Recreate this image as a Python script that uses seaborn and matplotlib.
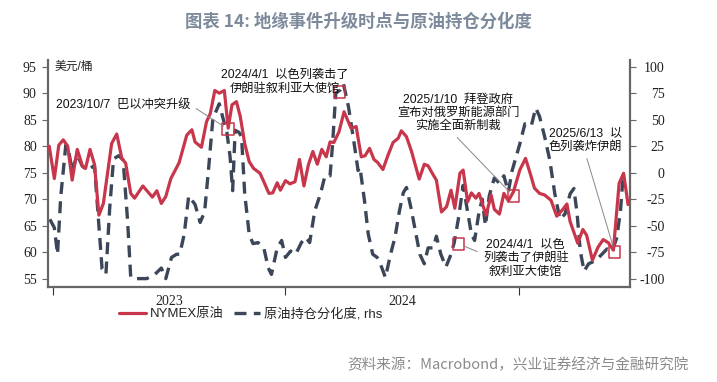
import pandas as pd
import seaborn as sns
import matplotlib.pyplot as plt
import matplotlib.dates as mdates
from matplotlib.ticker import FixedLocator

# NYMEX crude (USD/bbl), left axis
oil_dates = [
    "2022-12-26", "2023-01-03", "2023-01-10", "2023-01-17", "2023-01-24", "2023-01-31",
    "2023-02-08", "2023-02-16", "2023-02-21", "2023-02-28", "2023-03-07", "2023-03-14",
    "2023-03-21", "2023-04-03", "2023-04-11", "2023-04-19", "2023-04-25", "2023-05-03",
    "2023-05-09", "2023-05-22", "2023-06-06", "2023-06-13", "2023-06-20", "2023-06-27",
    "2023-07-05", "2023-07-18", "2023-07-30", "2023-08-07", "2023-08-12", "2023-08-22",
    "2023-08-30", "2023-09-05", "2023-09-12", "2023-09-19", "2023-09-27", "2023-10-03",
    "2023-10-09", "2023-10-16", "2023-10-22", "2023-10-29", "2023-11-05", "2023-11-12",
    "2023-11-22", "2023-11-28", "2023-12-06", "2023-12-12", "2023-12-19", "2023-12-24",
    "2024-01-01", "2024-01-08", "2024-01-16", "2024-01-23", "2024-01-30", "2024-02-06",
    "2024-02-13", "2024-02-20", "2024-02-27", "2024-03-05", "2024-03-11", "2024-03-17",
    "2024-03-25", "2024-04-02", "2024-04-13", "2024-04-21", "2024-04-29", "2024-05-05",
    "2024-05-12", "2024-05-19", "2024-05-25", "2024-06-02", "2024-06-10", "2024-06-18",
    "2024-06-26", "2024-07-01", "2024-07-09", "2024-07-17", "2024-07-29", "2024-08-06",
    "2024-08-12", "2024-08-20", "2024-08-25", "2024-09-02", "2024-09-10", "2024-09-17",
    "2024-09-23", "2024-10-01", "2024-10-06", "2024-10-13", "2024-10-19", "2024-10-26",
    "2024-10-31", "2024-11-11", "2024-11-19", "2024-11-24", "2024-12-02", "2024-12-09",
    "2024-12-16", "2024-12-24", "2025-01-03", "2025-01-12", "2025-01-20", "2025-01-26",
    "2025-02-03", "2025-02-11", "2025-02-21", "2025-03-02", "2025-03-11", "2025-03-18",
    "2025-03-23", "2025-04-04", "2025-04-12", "2025-04-18", "2025-04-27", "2025-05-06",
    "2025-05-14", "2025-05-22", "2025-05-30", "2025-06-08", "2025-06-15", "2025-06-22",
]
oil_price = [
    80.0, 73.9, 80.2, 81.2, 80.0, 73.6,
    79.4, 76.3, 75.8, 79.4, 76.6, 67.0,
    69.2, 80.5, 82.3, 77.7, 76.8, 71.1,
    70.2, 72.5, 70.4, 71.6, 69.2, 70.5,
    73.9, 76.9, 82.1, 83.1, 80.8, 79.8,
    84.6, 86.2, 90.5, 90.0, 90.5, 83.4,
    87.8, 88.4, 85.6, 80.5, 77.1, 75.8,
    74.9, 73.3, 71.1, 71.2, 73.1, 71.7,
    73.5, 72.9, 73.3, 77.5, 72.5, 76.5,
    79.0, 76.6, 79.4, 78.0, 80.8, 80.7,
    82.7, 86.5, 83.4, 83.7, 78.0, 78.2,
    79.6, 77.5, 76.9, 75.6, 78.3, 80.7,
    81.5, 82.9, 81.8, 79.0, 73.8, 76.6,
    76.3, 74.6, 73.6, 67.6, 68.6, 71.7,
    68.3, 74.9, 75.5, 69.5, 71.2, 70.2,
    71.1, 67.0, 70.8, 68.1, 67.2, 71.1,
    69.7, 71.4, 75.5, 77.7, 74.6, 72.1,
    71.1, 70.8, 69.8, 66.8, 68.0, 69.1,
    65.8, 61.7, 64.3, 63.2, 58.5, 61.0,
    62.4, 61.8, 60.4, 73.0, 74.9, 69.0,
]

# positioning divergence, right axis
pos_dates = [
    "2022-12-27", "2023-01-03", "2023-01-08", "2023-01-13", "2023-01-21", "2023-01-25",
    "2023-01-31", "2023-02-08", "2023-02-16", "2023-02-25", "2023-03-07", "2023-03-13",
    "2023-03-19", "2023-03-25", "2023-03-31", "2023-04-06", "2023-04-14", "2023-04-21",
    "2023-04-28", "2023-05-03", "2023-05-12", "2023-05-28", "2023-06-10", "2023-06-20",
    "2023-06-27", "2023-07-06", "2023-07-14", "2023-07-19", "2023-07-26", "2023-08-02",
    "2023-08-12", "2023-08-20", "2023-08-27", "2023-09-02", "2023-09-09", "2023-09-19",
    "2023-09-25", "2023-10-01", "2023-10-06", "2023-10-10", "2023-10-14", "2023-10-20",
    "2023-10-24", "2023-10-29", "2023-11-05", "2023-11-11", "2023-11-19", "2023-11-28",
    "2023-12-05", "2023-12-10", "2023-12-19", "2023-12-26", "2024-01-01", "2024-01-09",
    "2024-01-17", "2024-01-26", "2024-02-02", "2024-02-08", "2024-02-16", "2024-02-25",
    "2024-03-03", "2024-03-11", "2024-03-15", "2024-03-20", "2024-03-27", "2024-04-01",
    "2024-04-09", "2024-04-17", "2024-04-24", "2024-04-27", "2024-05-04", "2024-05-10",
    "2024-05-17", "2024-05-24", "2024-05-29", "2024-06-06", "2024-06-14", "2024-06-21",
    "2024-06-28", "2024-07-04", "2024-07-09", "2024-07-16", "2024-07-23", "2024-07-30",
    "2024-08-06", "2024-08-12", "2024-08-20", "2024-08-25", "2024-09-01", "2024-09-09",
    "2024-09-17", "2024-09-22", "2024-09-29", "2024-10-06", "2024-10-13", "2024-10-19",
    "2024-10-24", "2024-10-31", "2024-11-05", "2024-11-10", "2024-11-16", "2024-11-24",
    "2024-12-02", "2024-12-09", "2024-12-16", "2024-12-22", "2025-01-03", "2025-01-11",
    "2025-01-21", "2025-01-28", "2025-02-03", "2025-02-11", "2025-02-19", "2025-02-27",
    "2025-03-07", "2025-03-15", "2025-03-23", "2025-03-29", "2025-04-03", "2025-04-08",
    "2025-04-14", "2025-04-21", "2025-05-02", "2025-05-12", "2025-05-20", "2025-05-28",
    "2025-06-04", "2025-06-10", "2025-06-14", "2025-06-18",
]
pos_spread = [
    -44, -52, -77, -23, 26, 22,
    2, 17, 6, 2, 7, -42,
    -91, -96, -33, 13, 16, 12,
    -45, -99, -100, -100, -96, -90,
    -100, -80, -77, -77, -58, -22,
    -30, -47, -37, 2, 51, 65,
    51, 38, 15, -17, 40, 38,
    34, -20, -58, -67, -66, -71,
    -90, -96, -71, -64, -80, -74,
    -77, -66, -61, -66, -36, -20,
    -3, -3, 27, 75, 78, 84,
    62, 31, 2, 5, -26, -58,
    -77, -80, -86, -99, -77, -61,
    -36, -19, -14, -33, -55, -77,
    -86, -71, -71, -60, -77, -89,
    -77, -66, -42, -12, -37, -58,
    -64, -37, -25, -50, -22, -5,
    -10, -3, -18, 2, 27, 46,
    44, 61, 53, 34, 12, -20,
    -44, -39, -20, -15, -39, -74,
    -93, -86, -83, -77, -72, -74,
    -62, -37, -5, -3,
]

# event markers (drawn on the price axis) and their notes
event_dates = ["2023-10-03", "2024-03-26", "2024-12-24", "2024-09-29", "2025-06-01"]
event_levels = [83.2, 90.2, 70.6, 61.6, 60.1]
event_notes = [
    "2023/10/7  巴以冲突升级",
    "2024/4/1  以色列袭击了\n伊朗驻叙利亚大使馆",
    "2025/1/10  拜登政府\n宣布对俄罗斯能源部门\n实施全面新制裁",
    "2024/4/1  以色\n列袭击了伊朗驻\n叙利亚大使馆",
    "2025/6/13  以\n色列袭炸伊朗",
]

oil = pd.DataFrame({"date": pd.to_datetime(oil_dates), "value": oil_price})
pos = pd.DataFrame({"date": pd.to_datetime(pos_dates), "value": pos_spread})
events = pd.DataFrame({"date": pd.to_datetime(event_dates), "value": event_levels})

sns.set_theme(style="white")
plt.rcParams["font.family"] = ["Noto Sans CJK SC", "DejaVu Sans"]
plt.rcParams["axes.unicode_minus"] = False

RED = "#c8364b"
NAVY = "#3b4759"
SPINE = "#666666"
DASH = (0, (3.6, 2.2))
CJK = ["Liberation Sans", "Noto Sans CJK SC"]
NUM = ["Liberation Serif", "Noto Sans CJK SC"]

fig = plt.figure(figsize=(7.17, 3.82), dpi=100)
ax = fig.add_axes([0.0669, 0.2487, 0.8117, 0.5943])
ax2 = ax.twinx()

sns.lineplot(data=oil, x="date", y="value", ax=ax, color=RED, lw=2.3, zorder=3)
sns.lineplot(data=pos, x="date", y="value", ax=ax2, color=NAVY, lw=2.4,
             linestyle=DASH, zorder=2)
ax.set_zorder(ax2.get_zorder() + 1)
ax.patch.set_visible(False)

ax.set_ylim(53.45, 96.26)
ax2.set_ylim(-107.9, 106.3)
ax.set_xlim(pd.Timestamp("2022-12-24"), pd.Timestamp("2025-06-25"))
ax.set_yticks(range(55, 100, 5))
ax2.set_yticks(range(-100, 101, 25))
ax.set_xlabel("")
ax.set_ylabel("")
ax2.set_ylabel("")

ax.xaxis.set_major_locator(mdates.YearLocator())
ax.xaxis.set_major_formatter(plt.NullFormatter())
ax.xaxis.set_minor_locator(FixedLocator(
    mdates.date2num(pd.to_datetime(["2023-07-02", "2024-07-02"]))))
ax.xaxis.set_minor_formatter(mdates.DateFormatter("%Y"))

for a in (ax, ax2):
    for side in ("top", "left", "right", "bottom"):
        a.spines[side].set_visible(False)
for side in ("left", "bottom"):
    ax.spines[side].set_visible(True)
    ax.spines[side].set_color(SPINE)
    ax.spines[side].set_linewidth(1.6)
ax2.spines["right"].set_visible(True)
ax2.spines["right"].set_color(SPINE)
ax2.spines["right"].set_linewidth(1.6)

ax.tick_params(axis="y", which="major", direction="out", length=4, width=0.8,
               color=SPINE, pad=4, labelsize=10, left=True)
ax2.tick_params(axis="y", direction="out", length=4, width=0.8, color=SPINE,
                pad=21, labelsize=10, right=True)
ax.tick_params(axis="x", which="major", direction="out", length=6, width=0.8,
               color="#333333", bottom=True)
ax.tick_params(axis="x", which="minor", length=0, pad=6, labelsize=10, bottom=True)
for lab in ax.get_yticklabels() + ax2.get_yticklabels() + ax.get_xticklabels(minor=True):
    lab.set_family(NUM)
    lab.set_color("#222222")
for lab in ax2.get_yticklabels():
    lab.set_horizontalalignment("right")

ax.text(0.012, 0.969, "美元/桶", transform=ax.transAxes, fontsize=8.5,
        family=CJK, va="center", ha="left", color="#222222")

# event squares
ax.scatter(events["date"], events["value"], marker="s", s=70, facecolor="none",
           edgecolor=RED, linewidth=1.1, zorder=5)

note_pos = [(0.0137, 0.802), (0.407, 0.903), (0.705, 0.767), (0.821, 0.128), (0.923, 0.648)]
note_ha = ["left", "center", "center", "center", "center"]
note_rel = [(1.0, 0.5), None, (0.45, 0.0), (0.0, 0.6), (0.5, 0.0)]
for i, note in enumerate(event_notes):
    props = None
    if note_rel[i] is not None:
        props = dict(arrowstyle="-", color="#888888", lw=0.7, relpos=note_rel[i],
                     shrinkA=2, shrinkB=4)
    ax.annotate(note, xy=(events["date"][i], events["value"][i]), xycoords="data",
                xytext=note_pos[i], textcoords="axes fraction", fontsize=8.8,
                family=CJK, ha=note_ha[i], va="center", multialignment="center",
                linespacing=1.15, color="#111111", arrowprops=props, zorder=6)

handles = [
    plt.Line2D([], [], color=RED, lw=2.3),
    plt.Line2D([], [], color=NAVY, lw=2.4, linestyle=DASH),
]
fig.legend(handles, ["NYMEX原油", "原油持仓分化度, rhs"], loc="center",
           bbox_to_anchor=(0.35, 0.178), ncol=2, frameon=False,
           handlelength=2.0, handletextpad=0.3, columnspacing=0.8,
           prop={"family": CJK, "size": 9.5})

fig.text(0.5, 0.942, "图表 14: 地缘事件升级时点与原油持仓分化度", ha="center",
         va="center", fontsize=12.5, fontweight="bold", color="#7d8a9b",
         family=["Noto Sans CJK SC", "DejaVu Sans"])
fig.text(0.484, 0.045, "资料来源：Macrobond，兴业证券经济与金融研究院", ha="left",
         va="center", fontsize=10.5, color="#8a8a8a",
         family=["Noto Sans CJK SC", "DejaVu Sans"])

fig.savefig("out.png", dpi=100)
